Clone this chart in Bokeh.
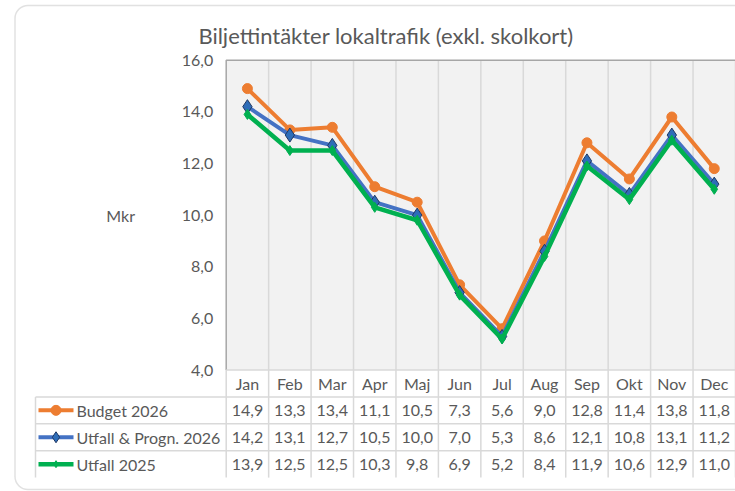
from bokeh.plotting import figure
from bokeh.models import Range1d, FixedTicker, BoxAnnotation, Label
from bokeh.core.properties import value
from bokeh.embed import file_html
from bokeh.resources import INLINE

# ---------------- data ----------------
months = ["Jan", "Feb", "Mar", "Apr", "Maj", "Jun", "Jul", "Aug", "Sep", "Okt", "Nov", "Dec"]
budget_2026 = [14.9, 13.3, 13.4, 11.1, 10.5, 7.3, 5.6, 9.0, 12.8, 11.4, 13.8, 11.8]
utfall_progn_2026 = [14.2, 13.1, 12.7, 10.5, 10.0, 7.0, 5.3, 8.6, 12.1, 10.8, 13.1, 11.2]
utfall_2025 = [13.9, 12.5, 12.5, 10.3, 9.8, 6.9, 5.2, 8.4, 11.9, 10.6, 12.9, 11.0]
series_names = ["Budget 2026", "Utfall & Progn. 2026", "Utfall 2025"]
y_ticks = [4, 6, 8, 10, 12, 14, 16]
y_tick_labels = ["4,0", "6,0", "8,0", "10,0", "12,0", "14,0", "16,0"]
title_text = "Biljettintäkter lokaltrafik (exkl. skolkort)"
y_title = "Mkr"

# ---------------- layout (canvas pixels) ----------------
W, H = 735, 491
PX0 = 225.7      # left edge of plot area
PXW = 42.44      # width of one month column
PY_TOP = 59.7    # y of top tick
PY_BOT = 369.5   # y of bottom tick
ROW = 26.9       # table row height
TABLE_LEFT = 35.0
FONT = "Lato"
TXT = "#595959"

y_lo, y_hi = min(y_ticks), max(y_ticks)
ppu = (PY_BOT - PY_TOP) / (y_hi - y_lo)


def px_x(fx):
    return (fx - PX0) / PXW


def px_v(fy):
    return y_lo + (PY_BOT - fy) / ppu


def px_t(fy):
    return (fy - PY_BOT) / ROW


n = len(months)
xc = [i + 0.5 for i in range(n)]

p = figure(width=W, height=H,
           x_range=Range1d(px_x(0), px_x(W)),
           y_range=Range1d(px_v(H), px_v(0)),
           output_backend="svg", toolbar_location=None,
           x_axis_location=None, y_axis_location="left",
           min_border=0, outline_line_color=None,
           background_fill_color="white", border_fill_color="white")
p.extra_y_ranges = {"table": Range1d(start=px_t(H), end=px_t(0))}
p.xgrid.visible = False
p.ygrid.visible = False

# y axis drawn at the plot-area edge
ax = p.yaxis[0]
ax.fixed_location = 0
ax.bounds = (y_lo, y_hi)
ax.ticker = FixedTicker(ticks=y_ticks)
ax.major_label_overrides = {t: lab for t, lab in zip(y_ticks, y_tick_labels)}
ax.axis_line_color = None
ax.major_tick_line_color = None
ax.minor_tick_line_color = None
ax.major_tick_out = 0
ax.major_tick_in = 0
ax.minor_tick_out = 0
ax.major_label_standoff = 13
ax.major_label_text_font = FONT
ax.major_label_text_font_size = "16px"
ax.major_label_text_color = TXT
ax.axis_label = y_title
ax.axis_label_orientation = "horizontal"
ax.axis_label_standoff = 44
ax.axis_label_text_font = FONT
ax.axis_label_text_font_style = "normal"
ax.axis_label_text_font_size = "16px"
ax.axis_label_text_color = TXT

# plot area
p.quad(left=0, right=n, bottom=y_lo, top=y_hi, fill_color="#f2f2f2", line_color=None)
p.segment(x0=list(range(1, n + 1)), y0=y_lo, x1=list(range(1, n + 1)), y1=y_hi,
          line_color="#d9d9d9", line_width=1.5)
p.line(x=[n, 0, 0], y=[y_hi, y_hi, y_lo], line_color="#a6a6a6", line_width=1.5)

# data table grid
tl = px_x(TABLE_LEFT)
rows = len(series_names)
p.segment(x0=[0] + [tl] * rows, y0=list(range(0, rows + 1)),
          x1=[n] * (rows + 1), y1=list(range(0, rows + 1)),
          line_color="#d9d9d9", line_width=1.5, y_range_name="table")
p.segment(x0=[tl] + list(range(0, n + 1)), y0=[1] + [0] * (n + 1),
          x1=[tl] + list(range(0, n + 1)), y1=[rows + 1] * (n + 2),
          line_color="#d9d9d9", line_width=1.5, y_range_name="table")

# series
styles = [
    dict(color="#ED7D31", lw=4, marker="circle", size=10, fill="#ED7D31", edge="#ED7D31"),
    dict(color="#4472C4", lw=4, marker="diamond", size=14, fill="#2E6DB8", edge="#1F3864"),
    dict(color="#00B050", lw=4.5, marker="diamond", size=10, fill="#00B050", edge="#00B050"),
]
series = [budget_2026, utfall_progn_2026, utfall_2025]
for vals, st in zip(series, styles):
    p.line(x=xc, y=vals, line_color=st["color"], line_width=st["lw"], line_join="round")
    p.scatter(x=xc, y=vals, marker=st["marker"], size=st["size"],
              fill_color=st["fill"], line_color=st["edge"], line_width=1)

# table header (months)
p.text(x=xc, y=[0.5] * n, text=months, y_range_name="table",
       text_font=value(FONT), text_font_size="16px", text_color=TXT,
       text_align="center", text_baseline="middle")

# table rows
key_x0, key_x1 = px_x(38), px_x(73)
for r, (name, vals, st) in enumerate(zip(series_names, series, styles)):
    tc = r + 1.5
    p.text(x=xc, y=[tc] * n, text=[f"{v:.1f}".replace(".", ",") for v in vals],
           y_range_name="table", text_font=value(FONT), text_font_size="16px",
           text_color=TXT, text_align="center", text_baseline="middle")
    p.line(x=[key_x0, key_x1], y=[tc, tc], line_color=st["color"], line_width=st["lw"],
           y_range_name="table")
    ks = st["size"] if st["marker"] == "circle" else st["size"] - 3
    p.scatter(x=[(key_x0 + key_x1) / 2], y=[tc], marker=st["marker"], size=ks,
              fill_color=st["fill"], line_color=st["edge"], line_width=1, y_range_name="table")
    p.text(x=[px_x(76)], y=[tc], text=[name], y_range_name="table",
           text_font=value(FONT), text_font_size="16px", text_color=TXT,
           text_align="left", text_baseline="middle")

# title
p.add_layout(Label(x=px_x(385.5), y=px_v(35), text=title_text, text_font=FONT,
                   text_font_size="22px", text_color=TXT, text_align="center",
                   text_baseline="middle"))

# chart border
p.add_layout(BoxAnnotation(left=px_x(14.5), right=px_x(W + 40), top=px_v(5), bottom=px_v(489),
                           fill_color=None, line_color="#9a9a9a", line_width=1.5,
                           border_radius=13))

open("out.html", "w").write(file_html(p, INLINE))
